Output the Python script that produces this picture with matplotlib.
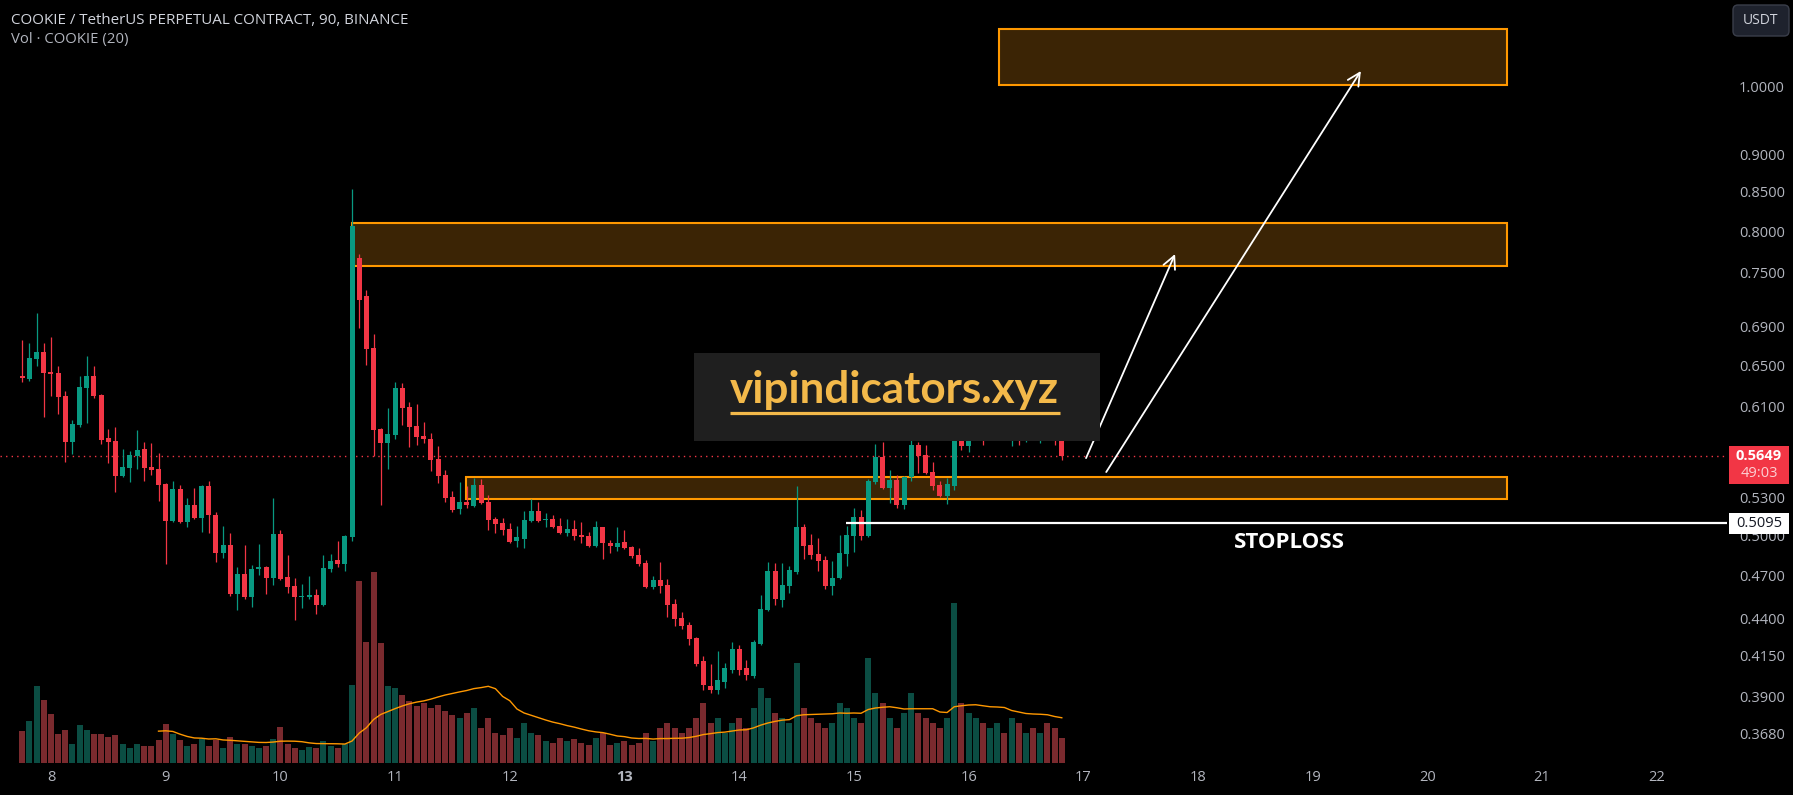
import numpy as np
import pandas as pd
import matplotlib
matplotlib.use("Agg")
import matplotlib.pyplot as plt
from matplotlib.patches import Rectangle, FancyBboxPatch

# ---------------- data ----------------
opens = [.6395,.6366,.6565,.6636,.6435,.6425,.6200,.5775,.5929,.6277,
         .6395,.6210,.5811,.5784,.5480,.5548,.5652,.5713,.5557,.5540,
         .5412,.5111,.5370,.5103,.5239,.5135,.5395,.5159,.4865,.4926,
         .4567,.4710,.4545,.4746,.4761,.4681,.5010,.4688,.4623,.4545,
         .4545,.4560,.4489,.4746,.4813,.4783,.4987,.7674,.7236,.6678,
         .5892,.5766,.5838,.6277,.6096,.5920,.5829,.5802,.5626,.5488,
         .5305,.5207,.5264,.5231,.5404,.5264,.5127,.5095,.5049,.4956,
         .4972,.5111,.5191,.5119,.5127,.5072,.5018,.5049,.5003,.4995,
         .4918,.5064,.4941,.4911,.4949,.4911,.4850,.4791,.4616,.4666,
         .4630,.4496,.4400,.4353,.4266,.4118,.3962,.3937,.3986,.4061,
         .4194,.4074,.4023,.4227,.4455,.4732,.4524,.4623,.4724,.5064,
         .4926,.4858,.4813,.4623,.4681,.4858,.4995,.5143,.4995,.5429,
         .5643,.5379,.5446,.5239,.5471,.5748,.5660,.5514,.5404,.5313,
         .5395,.5829,.5740,.5883,.6068,.5838,.6022,.6115,.5883,.5994,
         .5865,.5975,.5929,.5994,.5901,.5793]
highs = [.6761,.6730,.7048,.6730,.6792,.6494,.6248,.5975,.6395,.6596,
         .6494,.6219,.5892,.5910,.5713,.5695,.5883,.5775,.5766,.5678,
         .5421,.5438,.5404,.5296,.5379,.5404,.5438,.5183,.5072,.5018,
         .4761,.4926,.4776,.4933,.4768,.5296,.5041,.4850,.4681,.4637,
         .4695,.4602,.4850,.4858,.4956,.5003,.8537,.7720,.7304,.6824,
         .5901,.6087,.6336,.6326,.6143,.6124,.5957,.5856,.5740,.5531,
         .5354,.5429,.5395,.5463,.5455,.5321,.5143,.5135,.5095,.5072,
         .5191,.5288,.5264,.5175,.5159,.5135,.5127,.5119,.5103,.5025,
         .5111,.5068,.4964,.5064,.5041,.4918,.4903,.4813,.4695,.4798,
         .4673,.4531,.4441,.4373,.4273,.4149,.4099,.4182,.4105,.4240,
         .4220,.4124,.4253,.4560,.4798,.4791,.4791,.4768,.5395,.5087,
         .5010,.4980,.4843,.4806,.5003,.5072,.5215,.5199,.5455,.5757,
         .5775,.5531,.5488,.5480,.5793,.5775,.5748,.5600,.5438,.5463,
         .5975,.5929,.5975,.6162,.6162,.6115,.6210,.6181,.6068,.6068,
         .6022,.6049,.6068,.6068,.5975,.5883]
lows = [.6336,.6346,.6494,.6002,.6200,.6031,.5600,.5669,.5910,.5947,
        .6181,.5757,.5591,.5345,.5471,.5429,.5540,.5438,.5488,.5272,
        .4783,.5103,.5095,.5064,.5127,.5025,.5018,.4798,.4828,.4552,
        .4455,.4531,.4476,.4702,.4567,.4630,.4666,.4574,.4387,.4469,
        .4531,.4427,.4485,.4724,.4761,.4732,.4960,.6893,.6505,.5652,
        .5239,.5540,.5802,.5929,.5731,.5748,.5766,.5522,.5421,.5264,
        .5183,.5167,.5215,.5227,.5252,.5041,.5018,.5003,.4945,.4911,
        .4903,.5103,.5107,.5064,.5060,.5014,.4995,.4964,.4941,.4911,
        .4914,.4820,.4865,.4880,.4899,.4828,.4768,.4609,.4605,.4574,
        .4407,.4346,.4326,.4220,.4086,.3937,.3919,.3913,.3949,.4042,
        .4030,.3998,.4011,.4220,.4448,.4489,.4476,.4574,.4710,.4820,
        .4820,.4732,.4602,.4560,.4677,.4768,.4873,.4964,.4987,.5412,
        .5375,.5256,.5215,.5207,.5438,.5505,.5501,.5362,.5305,.5248,
        .5362,.5704,.5687,.5793,.5748,.5793,.5929,.5793,.5740,.5748,
        .5775,.5793,.5766,.5811,.5748,.5617]
closes = [.6375,.6575,.6636,.6425,.6415,.6190,.5775,.5938,.6287,.6395,
          .6200,.5793,.5775,.5480,.5557,.5660,.5704,.5548,.5531,.5404,
          .5111,.5370,.5103,.5239,.5135,.5395,.5159,.4865,.4926,.4567,
          .4710,.4545,.4746,.4761,.4681,.5010,.4673,.4616,.4545,.4552,
          .4560,.4489,.4754,.4806,.4783,.4995,.8063,.7192,.6667,.5883,
          .5766,.5847,.6277,.6087,.5910,.5820,.5802,.5617,.5480,.5296,
          .5199,.5264,.5239,.5404,.5256,.5119,.5087,.5041,.4949,.4987,
          .5119,.5191,.5111,.5127,.5064,.5018,.5049,.4995,.4987,.4918,
          .5064,.4941,.4918,.4941,.4903,.4843,.4783,.4616,.4666,.4623,
          .4489,.4394,.4346,.4260,.4099,.3968,.3937,.3998,.4074,.4194,
          .4061,.4030,.4240,.4462,.4732,.4531,.4630,.4739,.5064,.4918,
          .4850,.4806,.4623,.4681,.4865,.5003,.5143,.4995,.5438,.5643,
          .5379,.5446,.5239,.5471,.5748,.5652,.5505,.5395,.5313,.5412,
          .5829,.5740,.5883,.6068,.5838,.6022,.6115,.5883,.5994,.5865,
          .5975,.5929,.5994,.5901,.5793,.5649]
volumes = [320,420,770,630,490,290,330,190,380,330,
           290,290,260,280,190,150,190,170,170,230,
           390,290,230,170,190,240,170,230,150,260,
           190,190,170,150,170,240,360,190,150,130,
           160,150,220,170,150,190,780,1820,1210,1910,
           1200,770,750,680,620,570,600,550,580,520,
           480,450,500,550,350,450,300,280,350,250,
           400,300,280,220,200,250,220,240,200,180,
           250,300,180,200,220,180,200,300,220,350,
           400,350,300,350,450,600,400,450,300,400,
           450,350,550,750,650,500,450,400,1000,550,
           450,400,350,400,600,550,450,400,1050,700,
           600,450,350,500,700,500,450,400,350,450,
           1600,600,500,450,400,350,400,300,450,400,
           300,350,300,400,350,250]
first_bar_day = 7.75          # 18:00 on day 7
bars_per_day = 16             # 90-minute bars
last_price = 0.5649
stoploss = 0.5095
zones = [  # (start day, end day, low, high)
    (16.265, 20.694, 1.0030, 1.0925),
    (10.624, 20.694, 0.7581, 0.8096),
    (11.621, 20.694, 0.5289, 0.5474),
]
price_ticks = [1.0, 0.90, 0.85, 0.80, 0.75, 0.69, 0.65, 0.61, 0.57, 0.53, 0.50,
               0.47, 0.44, 0.415, 0.39, 0.368]
day_ticks = list(range(8, 23))
arrows = [((17.024, 0.5634), (17.80, 0.7722)),
          ((17.20, 0.5514), (19.42, 1.0245))]

# ---------------- figure ----------------
W, H = 1793, 795
UP, DN = "#089981", "#f23645"
VUP, VDN = "#0b4d43", "#7a2a2e"
GRID_TXT = "#b2b5be"

fig = plt.figure(figsize=(W / 100, H / 100), dpi=100, facecolor="black")
ax = fig.add_axes([0, 1 - 763 / H, 1727 / W, 763 / H])
ax.set_facecolor("black")
ax.set_yscale("log")
ax.set_xlim(7.5556, 22.612)
ax.set_ylim(0.35177, 1.1433)
for s in ax.spines.values():
    s.set_visible(False)

O = np.array(opens); Hh = np.array(highs); L = np.array(lows); C = np.array(closes)
n = len(O)
t = first_bar_day + np.arange(n) / bars_per_day
up = C >= O
cols = np.where(up, UP, DN)

# zones
for x0, x1, lo, hi in zones:
    ax.add_patch(Rectangle((x0, lo), x1 - x0, hi - lo, facecolor="#3b2405",
                           edgecolor="#ff9800", linewidth=1.5, zorder=1))

# candles
ax.vlines(t, L, Hh, colors=cols, linewidth=0.9, zorder=3)
bottom = np.minimum(O, C)
height = np.maximum(np.abs(C - O), bottom * 0.0018)
ax.bar(t, height, bottom=bottom, width=5 / 114.7, color=cols, linewidth=0, zorder=4)

# last price dotted line
ax.axhline(last_price, color=DN, linewidth=1, linestyle=(0, (1, 3)), zorder=2)
# stoploss line
ax.hlines(stoploss, 14.93, 22.612, color="white", linewidth=1.6, zorder=5)

# arrows
for (p0, p1) in arrows:
    ax.annotate("", xy=p1, xytext=p0,
                arrowprops=dict(arrowstyle="->,head_length=0.9,head_width=0.45",
                                color="white", lw=1.3, shrinkA=0, shrinkB=0), zorder=6)

# volume (twin axes)
ax2 = ax.twinx()
ax2.set_ylim(0, 7630)
vcols = np.where(up, VUP, VDN)
ax2.bar(t, volumes, width=6 / 114.7, color=vcols, linewidth=0, zorder=2)
ma = pd.Series(volumes, dtype=float).rolling(20).mean()
ax2.plot(t, ma, color="#ff9800", linewidth=1.0, zorder=3)
ax2.set_yticks([])
ax2.tick_params(axis="both", length=0, labelleft=False, labelright=False)
for s in ax2.spines.values():
    s.set_visible(False)

# price axis ticks on right of main axes
ax.yaxis.tick_right()
ax.yaxis.set_label_position("right")
ax.set_yticks(price_ticks)
ax.set_yticklabels([f"{p:.4f}" for p in price_ticks])
ax.yaxis.set_minor_locator(matplotlib.ticker.NullLocator())
ax.tick_params(axis="y", which="both", length=0, pad=8.6, labelsize=10.5,
               labelcolor=GRID_TXT, left=False, labelleft=False,
               right=True, labelright=True)
ax.set_xticks(day_ticks)
ax.set_xticklabels([str(d) for d in day_ticks])
ax.tick_params(axis="x", length=0, pad=5, labelsize=10.5, labelcolor=GRID_TXT)
for lab in ax.get_xticklabels() + ax.get_yticklabels():
    lab.set_fontfamily("Open Sans")
for lab in ax.get_xticklabels():
    if lab.get_text() == "13":
        lab.set_fontweight("bold")

# overlay in pixel coordinates
ov = fig.add_axes([0, 0, 1, 1], zorder=10)
ov.set_xlim(0, W); ov.set_ylim(H, 0); ov.axis("off")
ov.patch.set_alpha(0)

def ypx(p):
    return H - ax.transData.transform((10, p))[1]

# watermark box
ov.add_patch(Rectangle((694, 353), 406, 88, facecolor="#1f1f1f", edgecolor="none"))
wm = ov.text(730, 403, "vipindicators.xyz", color="#f3b94a", fontsize=24,
             fontweight="bold", fontfamily="Lato", ha="left", va="baseline")
ov.plot([730, 1060], [412.5, 412.5], color="#f3b94a", linewidth=2.3,
        solid_capstyle="butt")

# header
hd = ov.text(11, 20, "COOKIE / TetherUS PERPETUAL CONTRACT, 90, BINANCE",
             color="#d1d4dc", fontsize=11.5, fontfamily="Open Sans",
             ha="left", va="center")
vt = ov.text(11, 40, "Vol · COOKIE (20)", color=GRID_TXT, fontsize=11,
             fontfamily="Open Sans", ha="left", va="center")

# STOPLOSS text
st = ov.text(1289, 543, "STOPLOSS", color="white", fontsize=15,
             fontweight="bold", fontfamily="Open Sans", ha="center", va="center")

# USDT button
ov.add_patch(FancyBboxPatch((1733, 5), 56, 31,
                            boxstyle="round,pad=0,rounding_size=5",
                            facecolor="#1e222d", edgecolor="#3a3e4a", linewidth=1))
ov.text(1761, 20.5, "USDT", color="#d1d4dc", fontsize=10, fontfamily="Open Sans",
        ha="center", va="center")

# last price label
yl = ypx(last_price)
ov.add_patch(Rectangle((1729, yl - 10.5), 60, 38, facecolor=DN, edgecolor="none"))
ov.text(1759, yl, f"{last_price:.4f}", color="white", fontsize=10.5,
        fontweight="bold", fontfamily="Open Sans", ha="center", va="center")
ov.text(1759, yl + 17.5, "49:03", color="#fcd0d3", fontsize=10.5,
        fontfamily="Open Sans", ha="center", va="center")

# stoploss label
ys = ypx(stoploss)
ov.add_patch(Rectangle((1729, ys - 10.5), 60, 21, facecolor="white", edgecolor="none"))
ov.text(1759, ys, f"{stoploss:.4f}", color="#131722", fontsize=10.5,
        fontfamily="Open Sans", ha="center", va="center")

# fit text widths
fig.canvas.draw()
r = fig.canvas.get_renderer()
def fit(txt, target):
    bb = txt.get_window_extent(renderer=r)
    txt.set_fontsize(txt.get_fontsize() * target / bb.width)
fit(wm, 330)
fit(hd, 397)
fit(vt, 117)
fit(st, 111)

fig.savefig("out.png", dpi=100, facecolor="black")
